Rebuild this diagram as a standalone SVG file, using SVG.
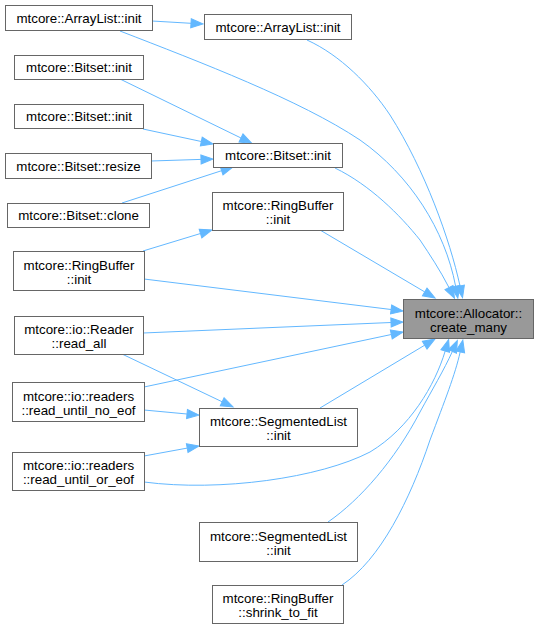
<svg xmlns="http://www.w3.org/2000/svg" width="538" height="629" viewBox="0 0 538 629">
<style>
.n rect{fill:#ffffff;stroke:#666666;stroke-width:1}
.hl rect{fill:#999999;stroke:#666666;stroke-width:1}
text{font-family:"Liberation Sans",Arial,Helvetica,sans-serif;font-size:13.33px;fill:#000000;text-anchor:middle}
.e path{fill:none;stroke:#63b8ff;stroke-width:1;marker-end:url(#ah)}
</style>
<defs>
<marker id="ah" markerWidth="13" markerHeight="10" refX="0" refY="5" orient="auto" markerUnits="userSpaceOnUse" overflow="visible">
<path d="M0,0.5 L12,5 L0,9.5 Z" fill="#63b8ff" stroke="#63b8ff" stroke-width="1"/>
</marker>
</defs>
<rect width="538" height="629" fill="#ffffff"/>
<g id="edges" class="e">
<path d="M152,21 L191,23.3"/>
<path d="M120,31 C200,62 300,100 360,140 C410,175 445,230 455.6,286.2"/>
<path d="M307,40 C340,55 370,85 390,115 C425,170 450,240 460,286"/>
<path d="M120,79 L241,138"/>
<path d="M143,129 L201.3,141.5"/>
<path d="M151,161 L201,159.4"/>
<path d="M122,203 L221.6,170.7"/>
<path d="M335,168 C370,185 400,215 420,240 C430,255 440,270 449,287.6"/>
<path d="M143,251 L200.5,233.5"/>
<path d="M320,230 L424.7,291.9"/>
<path d="M144,279 L391.1,309.5"/>
<path d="M143,333 L391,322.5"/>
<path d="M122,354 L222.2,401.8"/>
<path d="M144,387 L391.3,334.5"/>
<path d="M144,410 L187,414"/>
<path d="M144,456 L187.2,448.1"/>
<path d="M144,482 C220,492 320,478 370,452 C410,428 435,385 445.2,351"/>
<path d="M320,408 L424.7,345.2"/>
<path d="M328,522 C360,500 395,460 420,412 C432,390 444,370 452.4,351.4"/>
<path d="M342,585 C380,560 410,500 430,440 C445,400 455,375 460.2,351.9"/>
</g>
<g id="n0" class="hl"><rect x="403.5" y="299.5" width="130" height="39"/><text x="468.5" y="318">mtcore::Allocator::</text><text x="468.5" y="331.5">create_many</text></g>
<g id="n1" class="n"><rect x="5.5" y="5.5" width="147" height="25"/><text x="79" y="22.5">mtcore::ArrayList::init</text></g>
<g id="n2" class="n"><rect x="204.5" y="14.5" width="147" height="25"/><text x="278" y="31.5">mtcore::ArrayList::init</text></g>
<g id="n3" class="n"><rect x="14.5" y="55.5" width="129" height="24"/><text x="79" y="72">mtcore::Bitset::init</text></g>
<g id="n4" class="n"><rect x="14.5" y="104.5" width="129" height="24"/><text x="79" y="121">mtcore::Bitset::init</text></g>
<g id="n5" class="n"><rect x="5.5" y="153.5" width="146" height="25"/><text x="78.5" y="170.5">mtcore::Bitset::resize</text></g>
<g id="n6" class="n"><rect x="213.5" y="143.5" width="129" height="24"/><text x="278" y="160">mtcore::Bitset::init</text></g>
<g id="n7" class="n"><rect x="7.5" y="203.5" width="142" height="24"/><text x="78.5" y="220">mtcore::Bitset::clone</text></g>
<g id="n8" class="n"><rect x="212.5" y="192.5" width="131" height="38"/><text x="278" y="210">mtcore::RingBuffer</text><text x="278" y="223.5">::init</text></g>
<g id="n9" class="n"><rect x="13.5" y="251.5" width="131" height="39"/><text x="79" y="270">mtcore::RingBuffer</text><text x="79" y="283.5">::init</text></g>
<g id="n10" class="n"><rect x="14.5" y="316.5" width="129" height="38"/><text x="79" y="334">mtcore::io::Reader</text><text x="79" y="347.5">::read_all</text></g>
<g id="n11" class="n"><rect x="12.5" y="382.5" width="132" height="39"/><text x="78.5" y="401">mtcore::io::readers</text><text x="78.5" y="414.5">::read_until_no_eof</text></g>
<g id="n12" class="n"><rect x="199.5" y="408.5" width="158" height="38"/><text x="278.5" y="426">mtcore::SegmentedList</text><text x="278.5" y="439.5">::init</text></g>
<g id="n13" class="n"><rect x="12.5" y="452.5" width="132" height="38"/><text x="78.5" y="470">mtcore::io::readers</text><text x="78.5" y="483.5">::read_until_or_eof</text></g>
<g id="n14" class="n"><rect x="199.5" y="522.5" width="158" height="39"/><text x="278.5" y="541">mtcore::SegmentedList</text><text x="278.5" y="554.5">::init</text></g>
<g id="n15" class="n"><rect x="212.5" y="585.5" width="131" height="38"/><text x="278" y="603">mtcore::RingBuffer</text><text x="278" y="616.5">::shrink_to_fit</text></g>
</svg>
